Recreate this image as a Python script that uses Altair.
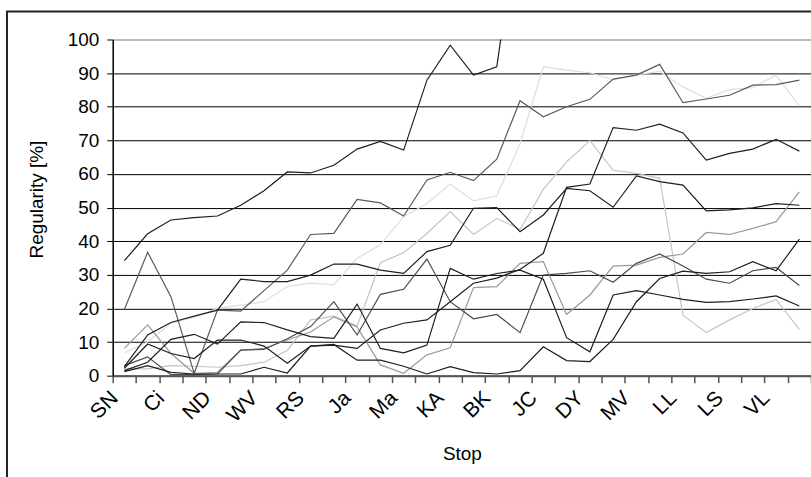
import altair as alt
import pandas as pd

# Stops along the route (30 stops, every second one labelled on the axis)
stop_labels = ["SN", "Ci", "ND", "WV", "RS", "Ja", "Ma", "KA",
               "BK", "JC", "DY", "MV", "LL", "LS", "VL"]
n_stops = 30

# Regularity [%] per stop for each service line
series_a = [34.2, 42.2, 46.3, 47.0, 47.5, 50.7, 55.0, 60.6, 60.3, 62.6, 67.4, 69.7, 67.1, 87.9, 98.3,
            89.4, 91.9, 140.0]
series_b = [19.7, 36.7, 23.5, 0.7, 19.5, 19.2, 25.3, 31.4, 42.0, 42.3, 52.4, 51.4, 47.5, 58.2, 60.5,
            58.0, 64.4, 81.8, 77.0, 80.0, 82.2, 88.2, 89.4, 92.6, 81.2, 82.3, 83.4, 86.4, 86.6, 87.9]
series_c = [2.2, 9.4, 6.6, 5.1, 10.6, 10.6, 8.8, 3.7, 8.8, 9.1, 8.1, 13.6, 15.6, 16.6, 22.0,
            27.5, 29.0, 31.6, 36.4, 56.0, 57.0, 73.8, 73.0, 74.8, 72.2, 64.1, 66.1, 67.4, 70.3, 66.8]
series_d = [8.1, 15.1, 6.6, 0.7, 1.0, 7.6, 8.1, 10.6, 13.0, 17.5, 14.5, 3.2, 0.7, 6.2, 8.3,
            26.2, 26.5, 33.4, 33.9, 18.2, 24.0, 32.6, 32.9, 35.2, 36.2, 42.6, 42.0, 43.8, 45.8, 54.7]
series_e = [2.7, 12.1, 15.8, 17.7, 19.5, 28.7, 28.0, 28.0, 29.9, 33.2, 33.2, 31.4, 30.4, 36.9, 38.8,
            49.8, 50.0, 42.8, 47.8, 55.7, 55.0, 50.1, 59.4, 57.7, 56.7, 49.0, 49.3, 49.9, 51.2, 50.7]
series_f = [1.2, 3.0, 1.0, 0.5, 0.5, 0.5, 2.5, 0.8, 8.8, 9.3, 4.6, 4.6, 2.8, 0.5, 2.7,
            0.9, 0.5, 1.5, 8.6, 4.5, 4.2, 10.8, 22.0, 28.9, 31.1, 30.4, 30.9, 33.9, 31.2, 40.6]
series_g = [3.0, 5.6, 0.3, 0.3, 0.5, 7.6, 7.8, 11.0, 14.6, 22.0, 12.1, 24.2, 25.7, 34.7, 22.0,
            16.9, 18.2, 12.8, 29.9, 30.4, 31.2, 27.8, 33.4, 36.2, 32.6, 28.7, 27.5, 31.2, 32.2, 26.8]
series_h = [1.5, 4.0, 10.8, 12.3, 9.4, 16.0, 15.8, 13.6, 11.6, 11.1, 21.3, 8.1, 6.8, 9.1, 31.9,
            28.7, 30.4, 31.4, 28.7, 11.3, 7.1, 24.0, 25.3, 24.0, 22.7, 21.8, 22.0, 22.8, 23.7, 20.7]
series_k = [6.8, 10.0, 15.6, 17.3, 20.0, 21.0, 22.0, 26.5, 27.5, 27.0, 34.9, 38.9, 47.3, 51.2, 57.0,
            52.0, 53.5, 69.0, 91.9, 90.9, 90.1, 88.0, 89.5, 90.5, 85.9, 82.5, 85.1, 85.7, 89.4, 80.2]
series_m = [2.0, 2.0, 3.0, 2.8, 2.5, 3.0, 4.0, 7.5, 16.6, 17.7, 14.8, 33.6, 36.6, 42.3, 48.8,
            42.0, 46.8, 43.5, 55.4, 63.6, 69.9, 61.1, 60.2, 58.7, 18.0, 12.8, 16.6, 20.0, 22.7, 13.8]

# Light lines first so the darker ones sit on top
series = [
    ("k", series_k, "#dedede"),
    ("m", series_m, "#c4c4c4"),
    ("d", series_d, "#9a9a9a"),
    ("b", series_b, "#5a5a5a"),
    ("g", series_g, "#4a4a4a"),
    ("f", series_f, "#1e1e1e"),
    ("h", series_h, "#1e1e1e"),
    ("c", series_c, "#1e1e1e"),
    ("e", series_e, "#1e1e1e"),
    ("a", series_a, "#1e1e1e"),
]

rows = []
for order, (name, values, _) in enumerate(series):
    for i, v in enumerate(values):
        rows.append({"stop": i, "value": v, "series": name, "order": order})
df = pd.DataFrame(rows)

label_js = "[" + ",".join("'" + s + "'" for s in stop_labels) + "]"
label_expr = f"datum.value % 2 == 0 ? {label_js}[datum.value / 2] : ''"

FONT = "Liberation Sans"
INK = "#000000"

x_enc = alt.X(
    "stop:O",
    scale=alt.Scale(type="band", domain=list(range(n_stops)), paddingInner=0, paddingOuter=0),
    bandPosition=0.5,
    axis=alt.Axis(
        title="Stop",
        titleFont=FONT, titleFontSize=19, titleFontWeight="normal", titleColor=INK,
        titleY=84, titleBaseline="alphabetic",
        labelExpr=label_expr, labelAngle=-45, labelAlign="right", labelBaseline="middle",
        labelFont=FONT, labelFontSize=21, labelColor=INK, labelPadding=12, labelOffset=-10,
        labelOverlap=False, labelBound=False,
        tickBand="extent", tickSize=7, tickColor="#555555", tickWidth=1.5,
        domainColor="#555555", domainWidth=2, grid=False,
    ),
)

y_enc = alt.Y(
    "value:Q",
    scale=alt.Scale(domain=[0, 100], nice=False, zero=True),
    axis=alt.Axis(
        title="Regularity [%]",
        titleFont=FONT, titleFontSize=19, titleFontWeight="normal", titleColor=INK,
        titleX=-70, titleY=160, titleBaseline="alphabetic", titleAngle=-90,
        values=list(range(0, 101, 10)),
        labelFont=FONT, labelFontSize=19, labelColor=INK, labelPadding=8,
        tickSize=6, tickColor="#000000", domainColor="#000000", domainWidth=1.5,
        grid=True,
        gridColor={"condition": {"test": "datum.value === 100", "value": "#888888"},
                   "value": "#000000"},
        gridWidth=1,
    ),
)

lines = alt.Chart(df).mark_line(strokeWidth=1.2, clip=True).encode(
    x=x_enc,
    y=y_enc,
    color=alt.Color("series:N",
                    scale=alt.Scale(domain=[s[0] for s in series], range=[s[2] for s in series]),
                    legend=None),
    order=alt.Order("order:Q"),
    detail="series:N",
)

# Outer chart frame
frame = alt.Chart(pd.DataFrame({"f": [0]})).mark_rect(
    fillOpacity=0, stroke="#222222", strokeWidth=2
).encode(
    x=alt.value(-106), x2=alt.value(760), y=alt.value(-28), y2=alt.value(520)
)

chart = alt.layer(lines, frame).properties(
    width=700, height=337,
    padding={"left": 113, "top": 39, "right": 0, "bottom": 101},
    autosize=alt.AutoSizeParams(type="none"),
).configure_view(stroke="#888888", strokeWidth=1).configure(background="white")

chart.save("out.html", embed_options={"renderer": "svg", "actions": False})
